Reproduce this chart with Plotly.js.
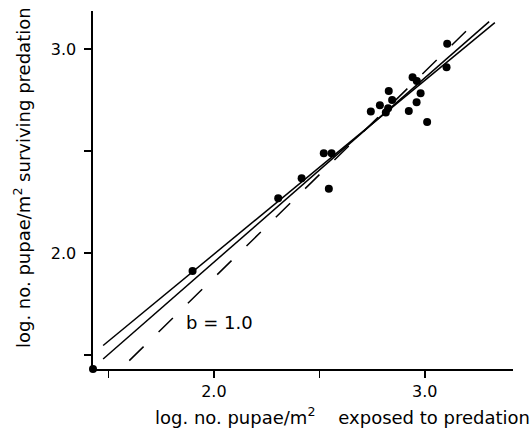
<!DOCTYPE html>
<html><head><meta charset="utf-8">
<script src="https://cdn.plot.ly/plotly-3.0.1.min.js"></script>
<style>html,body{margin:0;padding:0;background:#fff}</style>
</head><body><div id="chart" style="width:532px;height:428px"></div>
<script>
// log. no. pupae/m2 exposed to predation (x) and surviving predation (y)
const exposed = [1.427, 1.899, 2.305, 2.416, 2.521, 2.558, 2.545, 2.744, 2.787, 2.829, 2.845, 2.815, 2.826, 2.924, 2.942, 2.962, 2.980, 2.961, 3.011, 3.103, 3.106];
const surviving = [1.431, 1.912, 2.268, 2.366, 2.489, 2.489, 2.315, 2.693, 2.724, 2.794, 2.750, 2.688, 2.709, 2.696, 2.861, 2.843, 2.783, 2.739, 2.642, 2.910, 3.025];
// fitted regression lines (endpoints)
const fit1X = [1.475, 3.332], fit1Y = [1.546, 3.129];
const fit2X = [1.475, 3.305], fit2Y = [1.480, 3.134];
// reference line b = 1.0
const refX = [1.599, 3.237], refY = [1.472, 3.129];
const tickVals = [1.5, 2.0, 2.5, 3.0];
const tickText = ['', '2.0', '', '3.0'];
const xTitle = 'log. no. pupae/m<sup>2</sup>&nbsp;&nbsp;&nbsp;&nbsp;exposed to predation';
const yTitle = 'log. no. pupae/m<sup>2</sup> surviving predation';
const slopeLabel = 'b = 1.0';

const lineStyle = {color: '#000', width: 1.5};
const traces = [
  {x: fit1X, y: fit1Y, mode: 'lines', line: lineStyle, hoverinfo: 'skip'},
  {x: fit2X, y: fit2Y, mode: 'lines', line: lineStyle, hoverinfo: 'skip'},
  {x: refX, y: refY, mode: 'lines', line: {color: '#000', width: 1.5, dash: '20px,21px'}, hoverinfo: 'skip'},
  {x: exposed, y: surviving, mode: 'markers', marker: {color: '#000', size: 8}, cliponaxis: false}
];
const axisCommon = {
  showgrid: false, zeroline: false, showline: true, linecolor: '#000', linewidth: 1.6,
  ticks: 'outside', ticklen: 7, tickwidth: 1.5, tickcolor: '#000',
  tickvals: tickVals, ticktext: tickText,
  tickfont: {family: 'DejaVu Sans', size: 16, color: '#000'}
};
const layout = {
  width: 532, height: 428,
  margin: {l: 93, r: 19, t: 11, b: 59},
  paper_bgcolor: '#fff', plot_bgcolor: '#fff',
  showlegend: false,
  xaxis: Object.assign({}, axisCommon, {range: [1.427, 3.418]}),
  yaxis: Object.assign({}, axisCommon, {range: [1.431, 3.186], ticklabelstandoff: 5}),
  annotations: [
    {xref: 'paper', yref: 'paper', x: 0.595, y: -0.13, xanchor: 'center', yanchor: 'middle',
     text: xTitle, showarrow: false, font: {family: 'DejaVu Sans', size: 18, color: '#000'}},
    {xref: 'paper', yref: 'paper', x: -0.169, y: 0.5335, xanchor: 'center', yanchor: 'middle', textangle: -90,
     text: yTitle, showarrow: false, font: {family: 'DejaVu Sans', size: 18, color: '#000'}},
    {xref: 'x', yref: 'y', x: 2.028, y: 1.658, xanchor: 'center', yanchor: 'middle',
     text: slopeLabel, showarrow: false, font: {family: 'DejaVu Sans', size: 18, color: '#000'}}
  ]
};
Plotly.newPlot('chart', traces, layout, {staticPlot: true, displayModeBar: false});
</script></body></html>
